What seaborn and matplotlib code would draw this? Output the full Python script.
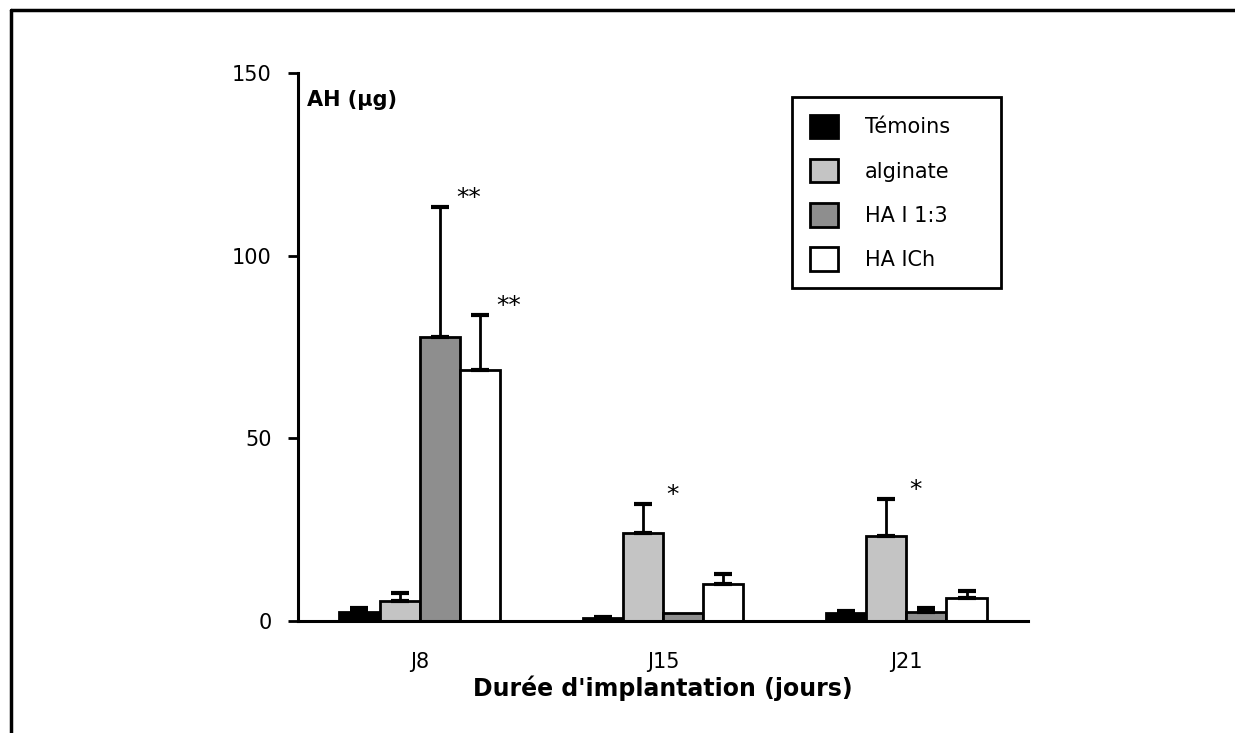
import numpy as np
import pandas as pd
import seaborn as sns
import matplotlib.pyplot as plt
from matplotlib.lines import Line2D

# ------------------------------------------------------
# Data (AH in µg, mean and upper SEM)
# ------------------------------------------------------
days = ["J8", "J15", "J21"]
groups = ["Témoins", "alginate", "HA I 1:3", "HA ICh"]

temoins = [2.5, 0.8, 2.2]
temoins_err = [1.0, 0.4, 0.5]
alginate = [5.5, 24.1, 23.3]
alginate_err = [2.1, 7.9, 10.1]
ha_13 = [77.8, 2.3, 2.5]
ha_13_err = [35.6, 0.0, 1.0]
ha_ich = [68.8, 10.1, 6.3]
ha_ich_err = [15.0, 2.8, 1.9]

# significance marks: (day, group, label)
stars = [("J8", "HA I 1:3", "**"), ("J8", "HA ICh", "**"),
         ("J15", "alginate", "*"), ("J21", "alginate", "*")]

colors = {"Témoins": "#000000", "alginate": "#c4c4c4",
          "HA I 1:3": "#8e8e8e", "HA ICh": "#ffffff"}

means = [temoins, alginate, ha_13, ha_ich]
errs = [temoins_err, alginate_err, ha_13_err, ha_ich_err]

df = pd.DataFrame({
    "day": np.tile(days, len(groups)),
    "group": np.repeat(groups, len(days)),
    "value": np.concatenate(means),
})

# ------------------------------------------------------
# Plot
# ------------------------------------------------------
sns.set_theme(style="white")
plt.rcParams["font.family"] = ["DejaVu Sans"]
for k in ["text.color", "axes.labelcolor", "xtick.color", "ytick.color"]:
    plt.rcParams[k] = "black"

fig = plt.figure(figsize=(12.35, 7.33), dpi=100)
ax = fig.add_axes([298 / 1235, 0.1528, 730 / 1235, 0.7476])

sns.barplot(data=df, x="day", y="value", hue="group", order=days,
            hue_order=groups, palette=colors, edgecolor="black",
            linewidth=2, width=0.66, saturation=1, errorbar=None,
            legend=False, ax=ax)

# one-sided error bars from bar centres
bar_pos = {}
for g, cont, err in zip(groups, ax.containers, errs):
    for d, bar, e in zip(days, cont, err):
        xc = bar.get_x() + bar.get_width() / 2
        top = bar.get_height()
        bar_pos[(d, g)] = (xc, top + e)
        if e > 0:
            ax.errorbar(xc, top, yerr=[[0], [e]], fmt="none", ecolor="black",
                        elinewidth=2, capsize=6.5, capthick=3, zorder=1)

for d, g, lab in stars:
    xc, ytop = bar_pos[(d, g)]
    ax.text(xc + 0.12, ytop + 2.5, lab, ha="center", va="center",
            fontsize=18, color="black")

ax.set_xlim(-0.5, 2.5)
ax.set_ylim(0, 150)
ax.set_yticks([0, 50, 100, 150])
ax.set_xticks(range(len(days)))
ax.set_xticklabels(days)
ax.set_xticks([0.5, 1.5, 2.5], minor=True)
ax.tick_params(axis="x", which="major", length=0, pad=22, labelsize=15)
ax.tick_params(axis="x", which="minor", length=6, width=2, direction="out",
               color="black")
ax.tick_params(axis="y", length=7, width=2, direction="out", pad=12,
               labelsize=15, color="black", left=True)

sns.despine(ax=ax)
for s in ["left", "bottom"]:
    ax.spines[s].set_linewidth(2.2)
    ax.spines[s].set_color("black")

ax.set_ylabel("")
ax.set_xlabel("Durée d'implantation (jours)", fontsize=17, fontweight="bold",
              labelpad=3)
ax.text(0.012, 0.95, "AH (µg)", transform=ax.transAxes, fontsize=15,
        fontweight="bold", ha="left", va="center")

handles = [plt.Rectangle((0, 0), 1, 1, facecolor=colors[g], edgecolor="black",
                         linewidth=2) for g in groups]
leg = ax.legend(handles, groups, loc="upper left", mode="expand",
                bbox_to_anchor=(792 / 1235, 1 - 307 / 733, 209 / 1235, 210 / 733),
                bbox_transform=fig.transFigure, fontsize=15, frameon=True,
                fancybox=False, handlelength=1.35, handleheight=1.35,
                handletextpad=1.3, labelspacing=1.0, borderpad=0.85,
                borderaxespad=0)
leg.get_frame().set_edgecolor("black")
leg.get_frame().set_linewidth(2)
leg.get_frame().set_alpha(1)

# outer frame: top and left edges only
fig.add_artist(Line2D([0.009, 1.0], [0.987, 0.987], color="black", lw=2.5,
                      transform=fig.transFigure))
fig.add_artist(Line2D([0.009, 0.009], [0.0, 0.987], color="black", lw=2.5,
                      transform=fig.transFigure))

fig.savefig("out.png", dpi=100)
